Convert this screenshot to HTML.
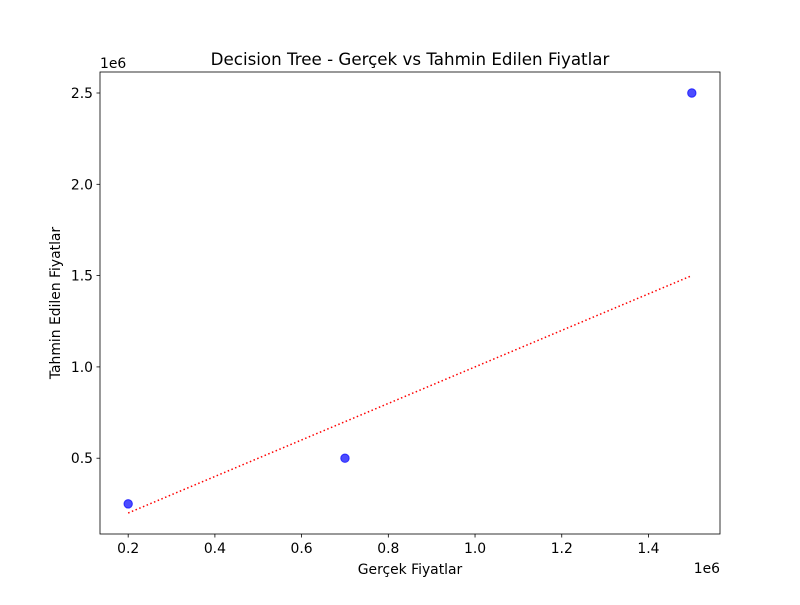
<!DOCTYPE html>
<html><head><meta charset="utf-8"><style>
body{margin:0;background:#fff;}
text{font-family:"DejaVu Sans","Liberation Sans",sans-serif;fill:#000;}
</style></head><body>
<svg id="chart" width="800" height="600" xmlns="http://www.w3.org/2000/svg">
<rect width="800" height="600" fill="#fff"/>
<g id="plot"></g>
</svg>
<script>
const actual=[0.2,0.7,1.5];
const predicted=[0.25,0.5,2.5];
const lineX=[0.2,1.5];
const lineY=[0.2,1.5];
const xTicks=[0.2,0.4,0.6,0.8,1.0,1.2,1.4];
const yTicks=[0.5,1.0,1.5,2.0,2.5];
const L=100,R=720,T=72,B=534;
const xMin=0.135,xMax=1.565,yMin=0.085,yMax=2.615;
const X=v=>L+(v-xMin)/(xMax-xMin)*(R-L);
const Y=v=>B-(v-yMin)/(yMax-yMin)*(B-T);
const NS='http://www.w3.org/2000/svg';
const g=document.getElementById('plot');
function mk(tag,attrs,txt){const e=document.createElementNS(NS,tag);for(const k in attrs)e.setAttribute(k,attrs[k]);if(txt!==undefined)e.textContent=txt;g.appendChild(e);return e;}
xTicks.forEach(t=>{const x=X(t);
const tk=mk('line',{x1:x,x2:x,y1:B,y2:B+3.5,stroke:'#000','stroke-width':0.8});


const lb=mk('text',{x:x,y:B+19,'font-size':13.9,'text-anchor':'middle'},t.toFixed(1));

});
yTicks.forEach(t=>{const y=Y(t);
const tk=mk('line',{x1:L-3.5,x2:L,y1:y,y2:y,stroke:'#000','stroke-width':0.8});


const lb=mk('text',{x:L-7,y:y+5,'font-size':13.9,'text-anchor':'end'},t.toFixed(1));

});
actual.forEach((v,i)=>{const c=mk('circle',{cx:X(v),cy:Y(predicted[i]),r:4.2,fill:'#0000ff','fill-opacity':0.7,stroke:'#0000ff','stroke-opacity':0.7});

});
const ln=mk('line',{x1:X(lineX[0]),y1:Y(lineY[0]),x2:X(lineX[1]),y2:Y(lineY[1]),stroke:'#ff0000','stroke-width':1.5,'stroke-dasharray':'1.5,2.5'});


const fr=mk('rect',{x:L,y:T,width:R-L,height:B-T,fill:'none',stroke:'#000','stroke-width':0.8});


const tt=mk('text',{x:410,y:65,'font-size':16.7,'text-anchor':'middle'},'Decision Tree - Gerçek vs Tahmin Edilen Fiyatlar');


const xl=mk('text',{x:410,y:574,'font-size':13.9,'text-anchor':'middle'},'Gerçek Fiyatlar');


const yl=mk('text',{x:0,y:0,'font-size':13.9,'text-anchor':'middle',transform:'translate(60,303) rotate(-90)'},'Tahmin Edilen Fiyatlar');


const xo=mk('text',{x:720,y:573,'font-size':13.9,'text-anchor':'end'},'1e6');


const yo=mk('text',{x:100,y:68,'font-size':13.9,'text-anchor':'start'},'1e6');


</script>
</body></html>
